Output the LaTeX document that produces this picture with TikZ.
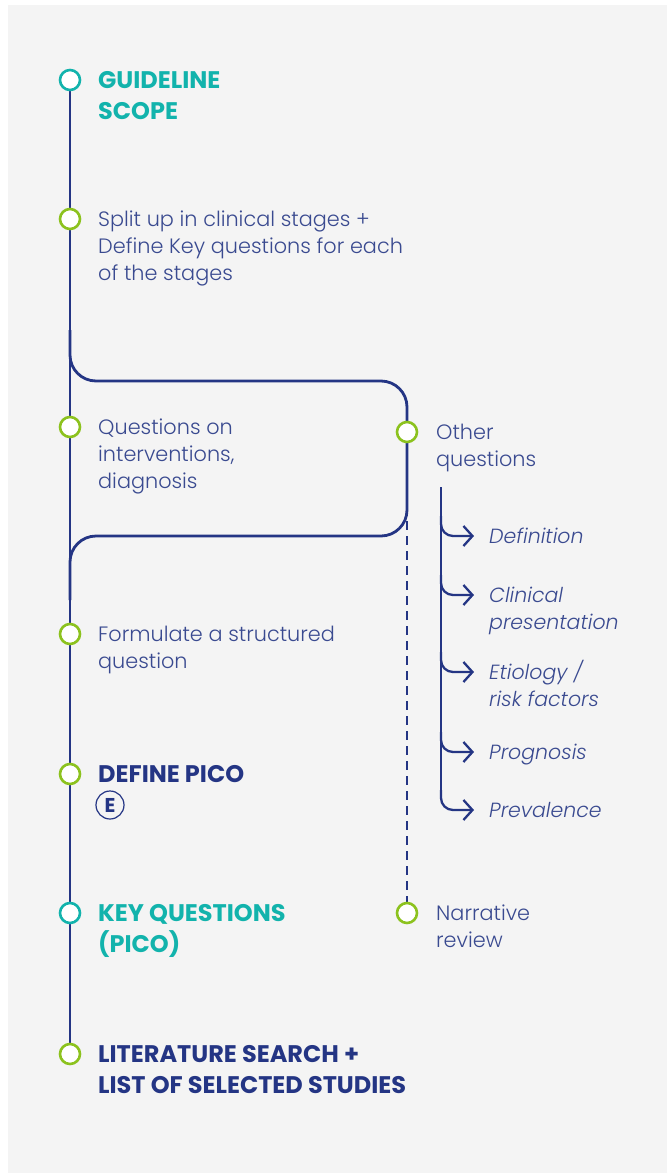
\documentclass[tikz,border=0pt]{standalone}
\usepackage{fontspec}
\setmainfont{Poppins}[UprightFont=* Light, ItalicFont=* Light Italic, BoldFont=* Bold]
\usetikzlibrary{arrows.meta}
\definecolor{navy}{HTML}{243584}
\definecolor{txt}{HTML}{3A4A90}
\definecolor{teal}{HTML}{12B3AC}
\definecolor{lgreen}{HTML}{8CC21E}
\definecolor{bg}{HTML}{F4F4F4}
\tikzset{
  dot/.style={circle, draw=lgreen, fill=white, line width=2.6pt, minimum size=20pt, inner sep=0pt},
  tdot/.style={dot, draw=teal},
  lbl/.style={anchor=base west, align=left, inner sep=0pt, text=txt, font=\fontsize{20.8}{27}\selectfont},
  ilbl/.style={lbl, font=\fontsize{20.5}{27}\selectfont\itshape},
  hteal/.style={anchor=base west, align=left, inner sep=0pt, text=teal, font=\fontsize{24}{31}\selectfont\bfseries},
  hnavy/.style={hteal, text=navy},
  mainline/.style={draw=navy, line width=2.8pt},
  sub/.style={draw=navy, line width=2.3pt, rounded corners=12pt},
  arr/.style={sub, -{Straight Barb[length=9pt, width=20pt, line width=2.3pt]}},
}
\begin{document}
\begin{tikzpicture}[x=1pt, y=-1pt]
\useasboundingbox (0,0) rectangle (667,1173);
\fill[white] (0,0) rectangle (667,1173);
\fill[bg] (8,5) rectangle (667,1173);

% main line and branch
\coordinate (top) at (70,80);
\coordinate (bot) at (70,1054);
\draw[mainline] (top) -- (bot);
\coordinate (b1) at (70,330);
\coordinate (b2) at (70,381);
\coordinate (b3) at (407,381);
\coordinate (b4) at (407,536);
\coordinate (b5) at (70,536);
\coordinate (b6) at (70,600);
\draw[mainline, rounded corners=26pt] (b1) -- (b2) -- (b3) -- (b4) -- (b5) -- (b6);
\coordinate (d1) at (407,521);
\coordinate (d2) at (407,903);
\draw[mainline, dash pattern=on 9pt off 6pt] (d1) -- (d2);

% main circles
\node[tdot] (c1) at (70,80) {};
\node[dot] (c2) at (70,219) {};
\node[dot] (c3) at (70,427) {};
\node[dot] (c4) at (70,634) {};
\node[dot] (c5) at (70,774) {};
\node[tdot] (c6) at (70,913) {};
\node[dot] (c7) at (70,1054) {};
\node[dot] (oq) at (407,432) {};
\node[dot] (nr) at (407,913) {};

% labels (base anchor = baseline of the last line)
\node[hteal] (t1) at (98,88+31) {GUIDELINE\\SCOPE};
\node[lbl] (t2) at (98,226+54) {Split up in clinical stages +\\Define Key questions for each\\of the stages};
\node[lbl] (t3) at (98,434+54) {Questions on\\interventions,\\diagnosis};
\node[lbl] (t4) at (98,641+27) {Formulate a structured\\question};
\node[hnavy] (t5) at (98,782) {DEFINE PICO};
\node[circle, draw=navy, line width=1.2pt, minimum size=28pt, inner sep=0pt, text=navy, font=\fontsize{20}{20}\selectfont\bfseries] (e) at (110,805) {E};
\node[hteal] (t6) at (98,921+31) {KEY QUESTIONS\\(PICO)};
\node[hnavy] (t7) at (98,1062+31) {LITERATURE SEARCH +\\LIST OF SELECTED STUDIES};
\node[lbl] (toq) at (436,439+27) {Other\\questions};
\node[lbl] (tnr) at (436,920+27) {Narrative\\review};

% sub branch
\coordinate (s0) at (441,487);
\coordinate (s5) at (441,795);
\draw[sub] (s0) -- (s5);
\foreach \y/\n in {536/a1, 595/a2, 672/a3, 752/a4, 810/a5} {
  \coordinate (\n s) at (441,\y-20);
  \coordinate (\n c) at (441,\y);
  \coordinate (\n e) at (474,\y);
  \draw[arr] (\n s) -- (\n c) -- (\n e);
}
\node[ilbl] (i1) at (489,543) {Definition};
\node[ilbl] (i2) at (489,602+27) {Clinical\\presentation};
\node[ilbl] (i3) at (489,679+27) {Etiology /\\risk factors};
\node[ilbl] (i4) at (489,759) {Prognosis};
\node[ilbl] (i5) at (489,817) {Prevalence};
\end{tikzpicture}
\end{document}
